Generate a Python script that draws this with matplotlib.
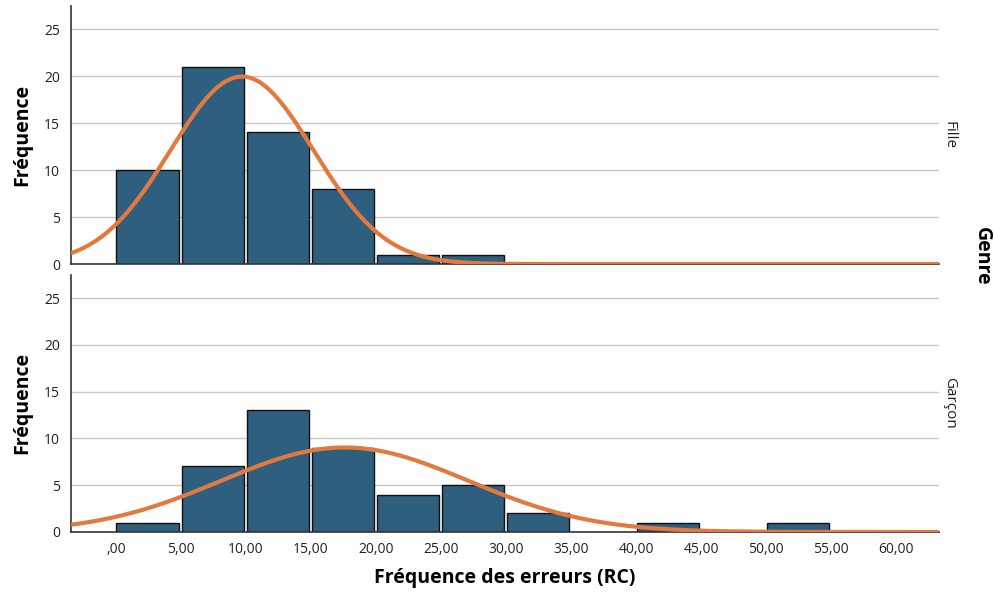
"""
Histogram of error frequency (RC) by gender, with fitted normal curves.
"""

import matplotlib.pyplot as plt
import numpy as np

plt.rcParams["font.family"] = ["Open Sans", "DejaVu Sans"]

# bins of width 5 starting at 0
bin_edges = [0, 5, 10, 15, 20, 25, 30, 35, 40, 45, 50, 55]
counts_fille = [10, 21, 14, 8, 1, 1, 0, 0, 0, 0, 0]
counts_garcon = [1, 7, 13, 9, 4, 5, 2, 0, 1, 0, 1]

# normal fit parameters (mean, std) per group
fit_fille = (9.7, 5.5)
fit_garcon = (17.6, 9.5)

groups = ["Fille", "Garçon"]
xtick_values = [0, 5, 10, 15, 20, 25, 30, 35, 40, 45, 50, 55, 60]
xtick_labels = [",00", "5,00", "10,00", "15,00", "20,00", "25,00", "30,00",
                "35,00", "40,00", "45,00", "50,00", "55,00", "60,00"]
ytick_values = [0, 5, 10, 15, 20, 25]

BAR = "#2e5f7f"
CURVE = "#e07a3f"
XLIM = (-3.45, 63.3)
YLIM = (0, 27.5)


def draw_panel(ax, counts, fit, label, show_x):
    width = bin_edges[1] - bin_edges[0]
    left = np.array(bin_edges[:-1], dtype=float)
    counts = np.array(counts)
    mask = counts > 0
    ax.bar(left[mask] + 0.05, counts[mask], width=width - 0.2, align="edge",
           color=BAR, edgecolor="#111111", linewidth=1.0, zorder=2)

    mu, sd = fit
    n = counts.sum()
    xs = np.linspace(XLIM[0], XLIM[1], 600)
    ys = n * width * np.exp(-0.5 * ((xs - mu) / sd) ** 2) / (sd * np.sqrt(2 * np.pi))
    ax.plot(xs, ys, color=CURVE, linewidth=3, zorder=3, solid_capstyle="butt")

    ax.set_xlim(*XLIM)
    ax.set_ylim(*YLIM)
    ax.set_yticks(ytick_values)
    ax.yaxis.grid(True, color="#c8c8c8", linewidth=1.0, zorder=0)
    ax.set_axisbelow(True)
    for side in ("top", "right"):
        ax.spines[side].set_visible(False)
    for side in ("left", "bottom"):
        ax.spines[side].set_color("#333333")
        ax.spines[side].set_linewidth(1.2)
    ax.tick_params(axis="both", length=0, labelsize=10, colors="#222222", pad=8)
    ax.set_ylabel("Fréquence", fontsize=14, fontweight="bold", labelpad=8)
    ax.set_xticks(xtick_values)
    if show_x:
        ax.set_xticklabels(xtick_labels)
        ax.tick_params(axis="x", pad=7)
    else:
        ax.tick_params(axis="x", labelbottom=False)
    ax.text(1.012, 0.5, label, transform=ax.transAxes, rotation=-90,
            ha="center", va="center", fontsize=11, color="#222222")


fig = plt.figure(figsize=(9.94, 5.96), dpi=100)
ax_top = fig.add_axes([0.0714, 0.557, 0.8733, 0.4337])
ax_bot = fig.add_axes([0.0714, 0.1074, 0.8733, 0.4318])

draw_panel(ax_top, counts_fille, fit_fille, groups[0], show_x=False)
draw_panel(ax_bot, counts_garcon, fit_garcon, groups[1], show_x=True)

ax_bot.set_xlabel("Fréquence des erreurs (RC)", fontsize=14, fontweight="bold",
                  labelpad=8)
fig.text(0.988, 0.57, "Genre", rotation=-90, ha="center", va="center",
         fontsize=14, fontweight="bold")

fig.savefig("out.png", dpi=100)
plt.close(fig)
